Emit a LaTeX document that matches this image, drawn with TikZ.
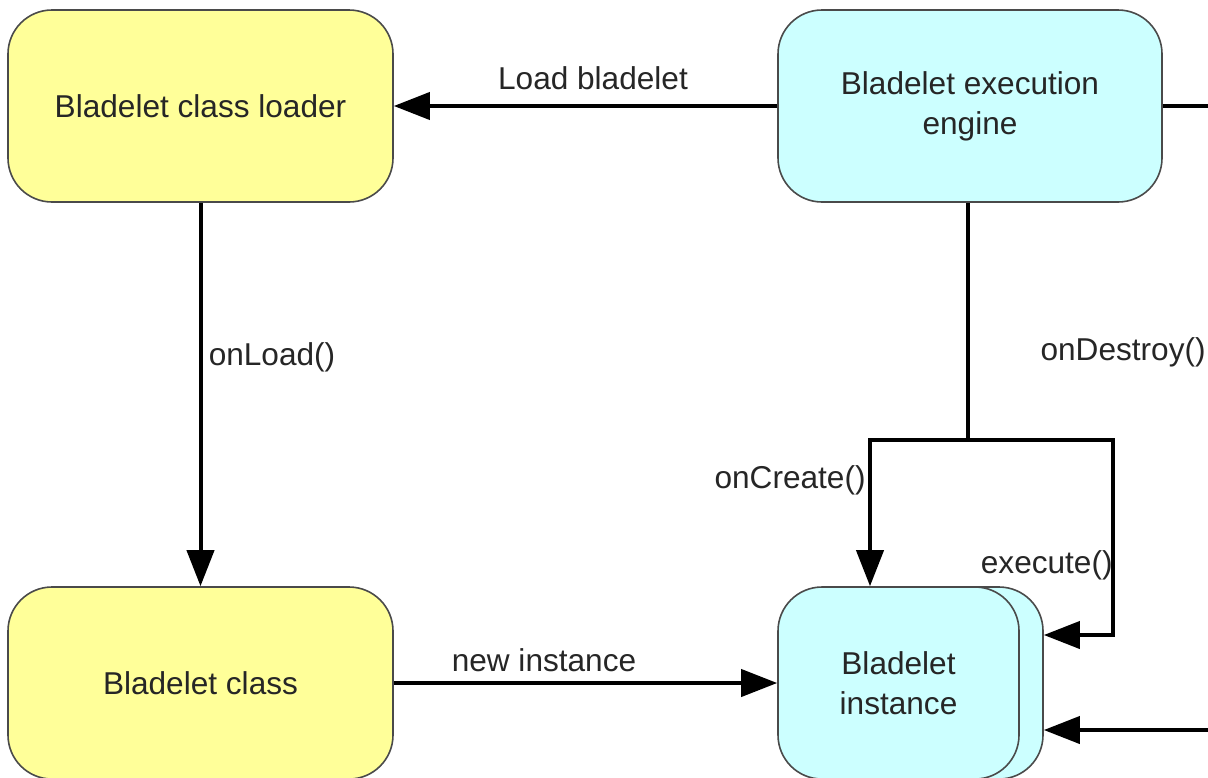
\documentclass[tikz,border=0pt]{standalone}
\usepackage{fontspec}
\setmainfont{Liberation Sans}
\usetikzlibrary{arrows.meta}
\definecolor{boxyellow}{HTML}{FFFF99}
\definecolor{boxcyan}{HTML}{CCFFFF}
\definecolor{boxline}{HTML}{4A4A4A}
\begin{document}
\begin{tikzpicture}[x=0.5pt,y=-0.5pt,
  txt/.style={font=\fontsize{15.8}{20}\selectfont, text=black!85},
  basebox/.style={txt, draw=boxline, line width=0.8pt, rounded corners=22pt, align=center, inner sep=0pt},
  ybox/.style={basebox, fill=boxyellow},
  cbox/.style={basebox, fill=boxcyan},
  wire/.style={line width=2pt, black},
  tip/.tip={Triangle[length=18pt,width=13.5pt]},
  conn/.style={wire, -tip},
  lab/.style={txt, inner sep=0pt}]
\useasboundingbox (0,0) rectangle (1208,777);
\fill[white] (0,0) rectangle (1208,777);

\node[ybox, minimum width=192.5pt, minimum height=96pt] (loader) at (200.5,106) {Bladelet class loader};
\node[cbox, minimum width=192pt, minimum height=96pt] (engine) at (970,106) {Bladelet execution\\engine};
\node[ybox, minimum width=192.5pt, minimum height=96pt] (class) at (200.5,683) {Bladelet class};
\node[cbox, minimum width=120pt, minimum height=96pt] (instback) at (923,683) {};
\node[cbox, minimum width=120.5pt, minimum height=96pt] (inst) at (898.5,683) {Bladelet\\instance};

\coordinate (eR) at (1208,106);
\coordinate (split) at (968,440);
\coordinate (sL) at (870,440);
\coordinate (sR) at (1113,440);
\coordinate (ex) at (1113,635);
\coordinate (dR) at (1208,730);

\draw[conn] (engine.west) -- (loader.east);
\draw[wire] (engine.east) -- (eR);
\draw[conn] (loader.south) -- (class.north);
\draw[conn] (class.east) -- (inst.west);
\draw[wire] (split |- engine.south) -- (split);
\draw[wire, tip-tip] (sL |- inst.north) -- (sL) -- (sR) -- (ex) -- (ex -| instback.east);
\draw[conn] (dR) -- (dR -| instback.east);

\node[lab] (lLoad) at (593,78) {Load bladelet};
\node[lab] (lOnLoad) at (272,357) {onLoad()};
\node[lab] (lNew) at (544,660) {new instance};
\node[lab, anchor=east] (lCreate) at (866,480) {onCreate()};
\node[lab, anchor=east] (lExec) at (1113,565) {execute()};
\node[lab, anchor=east] (lDestroy) at (1206,352) {onDestroy()};
\end{tikzpicture}
\end{document}
